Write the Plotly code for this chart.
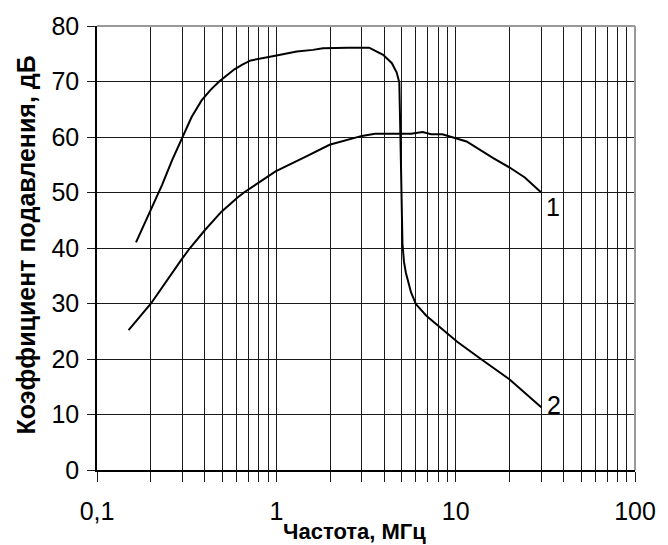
import plotly.graph_objects as go
import math

# Curve 1 (label "1")
curve1_x = [0.15, 0.2, 0.297, 0.33, 0.399, 0.493, 0.608, 0.66, 0.99, 1.3, 1.47, 1.98, 3.0, 3.55,
            5.64, 6.54, 7.3, 8.42, 10.2, 11.5, 16.2, 20.0, 24.3, 30.0]
curve1_y = [25.2, 30.0, 38.0, 40.0, 43.2, 46.5, 49.1, 50.0, 53.8, 55.6, 56.5, 58.6, 60.2, 60.6,
            60.6, 60.9, 60.5, 60.5, 59.7, 59.2, 56.2, 54.5, 52.7, 50.0]

# Curve 2 (label "2")
curve2_x = [0.165, 0.179, 0.2, 0.222, 0.231, 0.262, 0.3, 0.337, 0.383, 0.43, 0.48, 0.53, 0.584,
            0.65, 0.72, 0.97, 1.3, 1.6, 1.82, 2.5, 3.29, 3.94, 4.41, 4.69, 4.85, 4.92, 5.0, 5.05,
            5.15, 5.28, 5.64, 6.0, 6.86, 7.94, 10.2, 13.7, 20.0, 30.0]
curve2_y = [41.0, 43.5, 46.8, 50.0, 51.4, 55.8, 60.0, 63.6, 66.6, 68.5, 70.0, 71.2, 72.2,
            73.1, 73.8, 74.6, 75.4, 75.7, 76.0, 76.1, 76.1, 74.8, 73.3, 71.6, 69.8, 60.0, 48.0, 40.8,
            37.5, 35.5, 32.0, 29.9, 27.8, 26.1, 23.1, 20.1, 16.3, 11.3]

# Axis ticks
x_tickvals = [m * 10 ** e for e in (-1, 0, 1) for m in range(1, 10)] + [100]
x_major = {0.1: "0,1", 1: "1", 10: "10", 100: "100"}
y_tickvals = [0, 10, 20, 30, 40, 50, 60, 70, 80]

curve_labels = ["1", "2"]
label_x = [35, 35.2]
label_y = [47.4, 11.7]

FONT = "Liberation Sans, Arial, sans-serif"

fig = go.Figure()
for xs, ys in ((curve1_x, curve1_y), (curve2_x, curve2_y)):
    fig.add_trace(go.Scatter(x=xs, y=ys, mode="lines",
                             line=dict(color="black", width=2), showlegend=False,
                             hoverinfo="skip"))

for t, lx, ly in zip(curve_labels, label_x, label_y):
    fig.add_annotation(x=math.log10(lx), y=ly, xref="x", yref="y", text=t, showarrow=False,
                       font=dict(family=FONT, size=25, color="black"))

ticktext = []
for v in x_tickvals:
    key = None
    for k in x_major:
        if abs(v - k) < 1e-9:
            key = k
    ticktext.append(x_major[key] if key is not None else "")

fig.update_xaxes(type="log", range=[-1, 2], tickmode="array", tickvals=x_tickvals,
                 ticktext=ticktext, showgrid=True, gridcolor="#1a1a1a", gridwidth=1,
                 ticks="outside", ticklen=10, tickcolor="#1a1a1a", tickwidth=1,
                 showline=True, linecolor="black", linewidth=1.5,
                 tickfont=dict(family=FONT, size=25, color="black"),
                 ticklabelstandoff=8, zeroline=False)
fig.update_yaxes(range=[0, 80], tickmode="array", tickvals=y_tickvals,
                 showgrid=True, gridcolor="#1a1a1a", gridwidth=1,
                 ticks="outside", ticklen=8, tickcolor="#1a1a1a", tickwidth=1,
                 showline=True, linecolor="black", linewidth=1.5,
                 tickfont=dict(family=FONT, size=25, color="black"),
                 ticklabelstandoff=3, zeroline=False)

# top and right frame in grey
fig.add_shape(type="line", xref="paper", yref="paper", x0=0, x1=1, y0=1, y1=1,
              line=dict(color="#999999", width=2), layer="above")
fig.add_shape(type="line", xref="paper", yref="paper", x0=1, x1=1, y0=0, y1=1,
              line=dict(color="#999999", width=2), layer="above")

fig.add_annotation(x=0.478, y=-0.1375, xref="paper", yref="paper",
                   text="<b>Частота, МГц</b>", showarrow=False,
                   font=dict(family=FONT, size=22, color="black"),
                   xanchor="center", yanchor="middle")
fig.add_annotation(x=-0.1316, y=0.506, xref="paper", yref="paper",
                   text="<b>Коэффициент подавления, дБ</b>", showarrow=False, textangle=-90,
                   font=dict(family=FONT, size=25, color="black"),
                   xanchor="center", yanchor="middle")

fig.update_layout(width=668, height=545, margin=dict(l=97, r=24, t=19, b=75),
                  paper_bgcolor="white", plot_bgcolor="white", showlegend=False)

fig.write_html("out.html")
